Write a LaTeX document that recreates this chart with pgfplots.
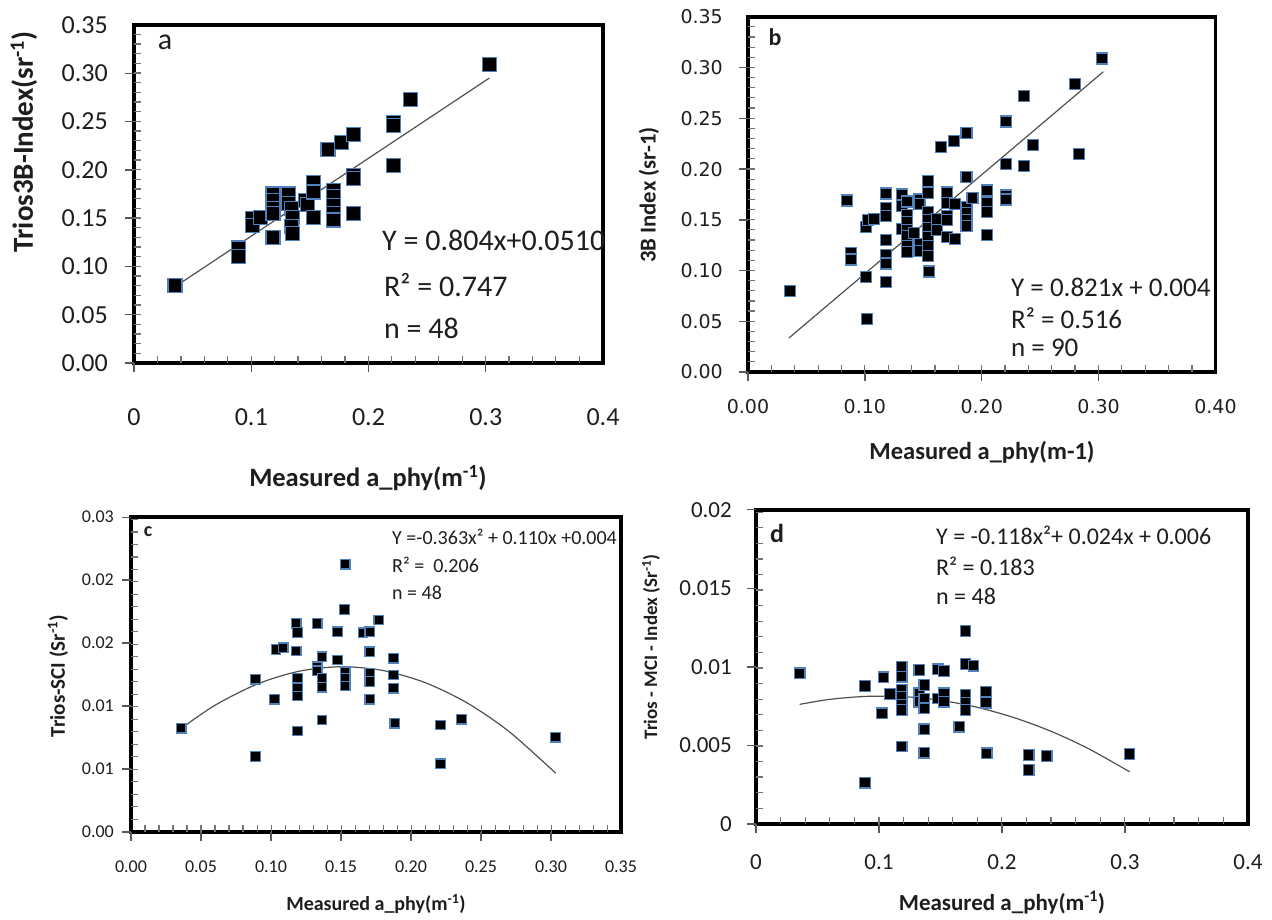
\documentclass[border=0pt]{standalone}
\usepackage{pgfplots}
\pgfplotsset{compat=1.18}
\usepackage{fontspec}
\setmainfont{Carlito}
\newfontfamily\dejavu{DejaVu Sans}
\definecolor{mkedge}{RGB}{79,129,189}
\definecolor{txt}{RGB}{30,30,30}
\definecolor{fitc}{RGB}{80,80,80}
\newcommand{\fs}[1]{\fontsize{#1}{#1}\selectfont}
\pgfplotsset{
  panel/.style={
    scale only axis, anchor=south west, clip=false,
    axis line style={line width=3.2pt, black},
    xtick pos=left, ytick pos=left,
    tick align=outside,
    major tick length=0pt, minor tick length=0pt,
    scaled ticks=false,
    /pgf/number format/assume math mode=true,
    every tick label/.append style={inner sep=0pt, text=txt},
  },
  % manual tick marks: #1 x majors, #2 x minors, #3 y majors, #4 y minors
  ticks/.style n args={4}{extra description/.code={
    \foreach \t in {#1} \draw[black!65, line width=1.4pt] (axis cs:\t,0) -- ++(0pt,-9pt);
    \foreach \t in {#2} \draw[black!55, line width=1.2pt] (axis cs:\t,0) -- ++(0pt,7pt);
    \foreach \t in {#3} \draw[black!65, line width=1.4pt] (axis cs:0,\t) -- ++(-9pt,0pt);
    \foreach \t in {#4} \draw[black!55, line width=1.2pt] (axis cs:0,\t) -- ++(7pt,0pt);
  }},
  pts/.style={only marks, mark=square*, mark options={fill=black, draw=mkedge, line width=1.2pt}},
  fitl/.style={no marks, fitc, line width=1.2pt},
}
\begin{document}
\begin{tikzpicture}
\useasboundingbox (0pt,0pt) rectangle (1272pt,919pt);
% ---------------- panel a
\begin{axis}[panel, at={(134pt,556pt)}, width=469pt, height=338pt,
  xmin=0, xmax=0.4, ymin=0, ymax=0.35,
  xtick={0,0.1,0.2,0.3,0.4}, ytick={0,0.05,...,0.36},
  ticks={0,0.1,...,0.4}{0.02,0.04,...,0.39}{0,0.05,...,0.35}{0.01,0.02,...,0.345},
  xticklabel style={/pgf/number format/.cd, fixed, precision=1},
  yticklabel style={/pgf/number format/.cd, fixed, fixed zerofill, precision=2},
  tick label style={font=\fs{26}},
  xticklabel shift=45pt, yticklabel shift=26pt]
\addplot[pts, mark size=7pt] coordinates {
(0.035,0.080) (0.089,0.119) (0.089,0.110) (0.101,0.150) (0.101,0.142)
(0.108,0.151) (0.1185,0.175) (0.1185,0.168) (0.1185,0.160) (0.1185,0.155)
(0.1185,0.130) (0.132,0.175) (0.132,0.165) (0.134,0.160) (0.135,0.151)
(0.134,0.141) (0.135,0.134) (0.146,0.168) (0.148,0.164) (0.153,0.187)
(0.153,0.177) (0.153,0.151) (0.1655,0.2207) (0.170,0.179) (0.170,0.172)
(0.170,0.163) (0.170,0.155) (0.170,0.148) (0.177,0.2286) (0.1875,0.237)
(0.1875,0.194) (0.1875,0.191) (0.1875,0.155) (0.221,0.249) (0.221,0.246)
(0.221,0.2045) (0.236,0.2726) (0.303,0.309)
};
\addplot[fitl] coordinates {(0.035,0.079) (0.303,0.295)};
\end{axis}
% ---------------- panel b
\begin{axis}[panel, at={(748pt,547pt)}, width=467.5pt, height=355pt,
  xmin=0, xmax=0.4, ymin=0, ymax=0.35,
  xtick={0,0.1,0.2,0.3,0.4}, ytick={0,0.05,...,0.36},
  ticks={0,0.1,...,0.4}{0.02,0.04,...,0.39}{0,0.05,...,0.35}{0.01,0.02,...,0.345},
  xticklabel style={/pgf/number format/.cd, fixed, fixed zerofill, precision=2},
  yticklabel style={/pgf/number format/.cd, fixed, fixed zerofill, precision=2},
  tick label style={font=\dejavu\fs{19}},
  xticklabel shift=27pt, yticklabel shift=25pt]
\addplot[pts, mark size=5.5pt] coordinates {
(0.0356,0.0802) (0.085,0.169) (0.088,0.117) (0.088,0.111) (0.101,0.143)
(0.103,0.150) (0.108,0.151) (0.101,0.0937) (0.102,0.0523) (0.118,0.176)
(0.118,0.162) (0.118,0.154) (0.118,0.130) (0.118,0.115) (0.118,0.107)
(0.118,0.089) (0.132,0.175) (0.132,0.164) (0.136,0.168) (0.132,0.141)
(0.136,0.155) (0.136,0.148) (0.136,0.140) (0.136,0.134) (0.136,0.124)
(0.136,0.118) (0.142,0.137) (0.1467,0.170) (0.1467,0.166) (0.1467,0.1265)
(0.1467,0.119) (0.1537,0.188) (0.1537,0.1765) (0.1537,0.158) (0.1537,0.150)
(0.1537,0.142) (0.1537,0.133) (0.1537,0.124) (0.1537,0.114) (0.1547,0.099)
(0.162,0.151) (0.162,0.140) (0.165,0.2215) (0.170,0.177) (0.170,0.1666)
(0.170,0.154) (0.170,0.150) (0.170,0.133) (0.1764,0.2274) (0.177,0.166)
(0.177,0.131) (0.187,0.236) (0.187,0.192) (0.187,0.163) (0.187,0.157)
(0.187,0.150) (0.187,0.144) (0.192,0.1715) (0.2044,0.179) (0.2044,0.167)
(0.2044,0.158) (0.2044,0.135) (0.221,0.247) (0.221,0.205) (0.221,0.174)
(0.221,0.170) (0.236,0.272) (0.236,0.203) (0.2435,0.2235) (0.280,0.284)
(0.283,0.215) (0.303,0.309)
};
\addplot[fitl] coordinates {(0.035,0.0335) (0.304,0.296)};
\end{axis}
% ---------------- panel c
\begin{axis}[panel, at={(131pt,87pt)}, width=490pt, height=315pt,
  xmin=0, xmax=0.35, ymin=0, ymax=0.03,
  xtick={0,0.05,0.1,0.15,0.2,0.25,0.3,0.35},
  ytick={0,0.006,0.012,0.018,0.024,0.03},
  ticks={0,0.05,...,0.35}{0.01,0.02,...,0.345}{0,0.006,...,0.0301}{0.0012,0.0024,...,0.0299},
  xticklabel style={/pgf/number format/.cd, fixed, fixed zerofill, precision=2},
  yticklabel style={/pgf/number format/.cd, fixed, fixed zerofill, precision=2},
  tick label style={font=\fs{18}},
  xticklabel shift=29pt, yticklabel shift=17pt]
\addplot[pts, mark size=4.75pt] coordinates {
(0.0359,0.00988) (0.089,0.01454) (0.089,0.00719) (0.1024,0.01264) (0.1035,0.01739)
(0.1088,0.01755) (0.118,0.01986) (0.119,0.01901) (0.118,0.01723) (0.119,0.01464)
(0.119,0.01369) (0.119,0.01296) (0.119,0.00963) (0.133,0.01986) (0.133,0.01574)
(0.133,0.01536) (0.1365,0.0167) (0.1365,0.01464) (0.1365,0.01378) (0.1365,0.01068)
(0.1476,0.01907) (0.1476,0.01638) (0.1531,0.0255) (0.1525,0.0212) (0.1531,0.01527)
(0.1531,0.01464) (0.1531,0.01391) (0.1657,0.01898) (0.1706,0.01907) (0.1706,0.01717)
(0.1706,0.01511) (0.1706,0.01432) (0.1706,0.01264) (0.177,0.02018) (0.1875,0.01654)
(0.1875,0.01495) (0.1875,0.01369) (0.1884,0.01036) (0.221,0.0102) (0.221,0.0065)
(0.236,0.01074) (0.3033,0.00903)
};
\addplot[fitl, smooth] coordinates {
(0.036,0.00988) (0.06,0.01207) (0.09,0.01408) (0.12,0.01531) (0.15,0.01574)
(0.18,0.01538) (0.21,0.01423) (0.24,0.01230) (0.27,0.00957) (0.3033,0.00561)
};
\end{axis}
% ---------------- panel d
\begin{axis}[panel, at={(756pt,95pt)}, width=492pt, height=314pt,
  xmin=0, xmax=0.4, ymin=0, ymax=0.02,
  xtick={0,0.1,0.2,0.3,0.4}, ytick={0,0.005,0.01,0.015,0.02},
  ticks={0,0.1,...,0.4}{0.02,0.04,...,0.39}{0,0.005,...,0.0201}{0.001,0.002,...,0.0199},
  xticklabel style={/pgf/number format/.cd, fixed, precision=1},
  yticklabel style={/pgf/number format/.cd, fixed, precision=3},
  tick label style={font=\fs{23}},
  xticklabel shift=30pt, yticklabel shift=24pt]
\addplot[pts, mark size=5.3pt] coordinates {
(0.0355,0.0096) (0.0886,0.00879) (0.0886,0.00263) (0.1036,0.00934) (0.1023,0.00705)
(0.1089,0.00828) (0.1185,0.01002) (0.1185,0.00938) (0.1185,0.00854) (0.1185,0.00811)
(0.1185,0.00758) (0.1185,0.00726) (0.1185,0.00493) (0.1328,0.00981) (0.1328,0.00832)
(0.1328,0.00779) (0.1368,0.00885) (0.1368,0.0080) (0.1368,0.00737) (0.1368,0.00603)
(0.1368,0.00454) (0.1477,0.00985) (0.1477,0.0080) (0.1527,0.00975) (0.1527,0.00832)
(0.1527,0.00779) (0.1653,0.0062) (0.1703,0.01229) (0.1703,0.01019) (0.1703,0.00822)
(0.1703,0.00773) (0.1703,0.00726) (0.1769,0.01008) (0.1869,0.00843) (0.1869,0.00773)
(0.1875,0.0045) (0.2217,0.0044) (0.2217,0.00344) (0.2363,0.00433) (0.3037,0.00446)
};
\addplot[fitl, smooth] coordinates {
(0.0355,0.00762) (0.06,0.00794) (0.09,0.00813) (0.12,0.00811) (0.15,0.00788)
(0.18,0.00743) (0.21,0.00677) (0.24,0.00590) (0.27,0.00481) (0.3037,0.00333)
};
\end{axis}
% ---------------- labels
\begin{scope}[every node/.style={text=txt, inner sep=0pt}]
\node[rotate=90, font=\bfseries\fs{29}] at (24pt,777pt) {Trios3B-Index(sr\textsuperscript{-1})};
\node[font=\bfseries\fs{26.5}] at (368pt,441pt) {Measured a\_phy(m\textsuperscript{-1})};
\node[font=\fs{30}] at (165pt,877pt) {a};
\node[anchor=west, font=\fs{30}] at (382pt,679pt) {Y = 0.804x+0.0510};
\node[anchor=west, font=\fs{30}] at (384pt,634pt) {R² = 0.747};
\node[anchor=west, font=\fs{30}] at (384pt,591pt) {n = 48};
%
\node[rotate=90, font=\bfseries\fs{22.7}] at (649pt,724pt) {3B Index (sr-1)};
\node[font=\bfseries\fs{24.5}] at (982pt,467pt) {Measured a\_phy(m-1)};
\node[font=\bfseries\fs{24}] at (775pt,882pt) {b};
\node[anchor=west, font=\fs{27}] at (1011pt,632pt) {Y = 0.821x + 0.004};
\node[anchor=west, font=\fs{27}] at (1011pt,601pt) {R² = 0.516};
\node[anchor=west, font=\fs{27}] at (1011pt,571pt) {n = 90};
%
\node[rotate=90, font=\bfseries\fs{21}] at (58pt,243pt) {Trios-SCI (Sr\textsuperscript{-1})};
\node[font=\bfseries\fs{20}] at (376pt,15pt) {Measured a\_phy(m\textsuperscript{-1})};
\node[font=\bfseries\fs{20}] at (148pt,387pt) {c};
\node[anchor=west, font=\fs{20}] at (392pt,382pt) {Y =-0.363x² + 0.110x +0.004};
\node[anchor=west, font=\fs{20}] at (392pt,354pt) {R² =\ \ 0.206};
\node[anchor=west, font=\fs{20}] at (392pt,326pt) {n = 48};
%
\node[rotate=90, font=\bfseries\fs{19}] at (651pt,272pt) {Trios - MCI - Index (Sr\textsuperscript{-1})};
\node[font=\bfseries\fs{23}] at (1002pt,16pt) {Measured a\_phy(m\textsuperscript{-1})};
\node[font=\bfseries\fs{26}] at (777pt,386pt) {d};
\node[anchor=west, font=\fs{24}] at (936pt,384pt) {Y = -0.118x²+ 0.024x + 0.006};
\node[anchor=west, font=\fs{24}] at (936pt,353pt) {R² = 0.183};
\node[anchor=west, font=\fs{24}] at (936pt,323pt) {n = 48};
\end{scope}
\end{tikzpicture}
\end{document}
